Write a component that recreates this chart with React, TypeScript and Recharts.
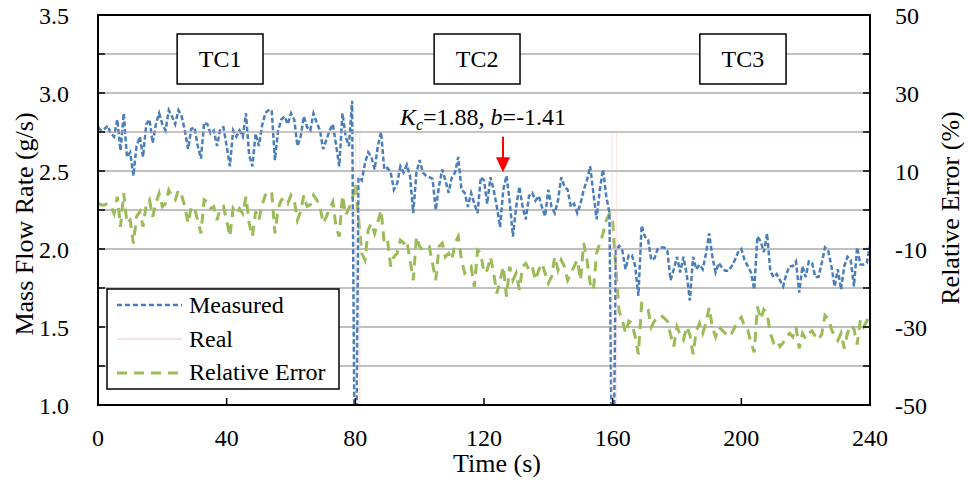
import React from "react"
import {
  LineChart,
  Line,
  XAxis,
  YAxis,
  CartesianGrid,
  ReferenceArea,
  ReferenceLine,
  ReferenceDot,
  Legend,
} from "recharts"

const FONT = "'Liberation Serif', 'Times New Roman', serif"
const BLUE = "#4A7EBB"
const GREEN = "#9BBB59"
const PINK = "#F4C4C4"

// measured mass flow rate (g/s), one sample per second, t = 0..240
const measured = [
  2.78, 2.76, 2.77, 2.79, 2.74, 2.72, 2.83, 2.63, 2.87, 2.59,
  2.62, 2.47, 2.66, 2.72, 2.59, 2.80, 2.83, 2.68, 2.80, 2.87,
  2.80, 2.76, 2.89, 2.85, 2.80, 2.89, 2.85, 2.76, 2.64, 2.77,
  2.78, 2.66, 2.58, 2.81, 2.80, 2.74, 2.76, 2.66, 2.77, 2.78,
  2.66, 2.53, 2.76, 2.72, 2.76, 2.72, 2.87, 2.60, 2.53, 2.74,
  2.66, 2.79, 2.87, 2.89, 2.89, 2.57, 2.76, 2.83, 2.85, 2.80,
  2.87, 2.83, 2.66, 2.72, 2.85, 2.78, 2.76, 2.87, 2.81, 2.76,
  2.64, 2.70, 2.76, 2.80, 2.67, 2.53, 2.87, 2.72, 2.66, 2.95,
  0, 2.46, 2.44, 2.55, 2.62, 2.59, 2.51, 2.66, 2.75, 2.51,
  2.52, 2.49, 2.38, 2.42, 2.53, 2.49, 2.54, 2.47, 2.23, 2.49,
  2.57, 2.49, 2.47, 2.46, 2.45, 2.25, 2.40, 2.51, 2.44, 2.36,
  2.46, 2.49, 2.59, 2.38, 2.36, 2.27, 2.36, 2.29, 2.23, 2.46,
  2.44, 2.29, 2.46, 2.38, 2.27, 2.14, 2.38, 2.47, 2.30, 2.08,
  2.27, 2.40, 2.27, 2.19, 2.34, 2.36, 2.31, 2.34, 2.27, 2.21,
  2.38, 2.27, 2.23, 2.31, 2.46, 2.40, 2.38, 2.27, 2.29, 2.23,
  2.29, 2.38, 2.44, 2.53, 2.36, 2.19, 2.38, 2.51, 2.34, 2.23,
  0, 2.00, 2.02, 1.99, 1.87, 1.96, 1.96, 1.89, 1.70, 2.15,
  2.08, 2.06, 1.93, 1.94, 2.00, 2.01, 2.01, 1.99, 1.80, 1.87,
  1.95, 1.85, 1.95, 1.84, 1.67, 1.95, 1.87, 1.90, 1.87, 1.97,
  2.10, 1.95, 1.85, 1.91, 1.88, 1.86, 1.86, 1.89, 1.93, 1.98,
  2.00, 1.93, 1.89, 1.85, 1.74, 2.08, 2.05, 1.98, 2.10, 1.86,
  1.82, 1.84, 1.80, 1.76, 1.84, 1.89, 1.89, 1.92, 1.72, 1.89,
  1.82, 1.92, 1.91, 1.82, 1.82, 1.91, 2.01, 1.99, 1.89, 1.76,
  1.87, 1.74, 1.89, 1.95, 1.93, 1.76, 2.01, 1.90, 1.90, 1.91,
  2.02,
]

// relative error (%), same time base
const relError = [
  1.7, 1.3, 1.3, 1.7, 0.9, -0.9, 3.4, -4.3, 4.3, -3.4,
  -2.6, -8.6, -1.7, -0.4, -4.3, 1.3, 2.6, -1.7, 1.7, 4.3,
  0.9, 1.7, 5.1, 3.4, 2.6, 5.1, 3.8, 0.9, -3.4, 0.9,
  0.4, -2.6, -6.0, 2.6, 2.1, 0.4, 0.9, -2.6, 0.4, 0.9,
  -2.6, -6.8, 0.4, -0.9, 0.4, -0.9, 3.4, -3.4, -6.8, -0.4,
  -2.6, 1.3, 3.8, 4.7, 4.7, -6.0, 0.4, 2.6, 3.0, 1.7,
  3.8, 2.6, -2.6, -0.4, 3.8, 0.9, 1.3, 3.8, 2.6, 0.9,
  -3.4, -1.7, 0.4, 2.1, -4.3, -6.8, 3.8, -1.3, 0.4, 2.6,
  6.8, -2.0, -11.1, -12.8, -5.1, -3.4, -6.0, -3.0, 0.0, -8.5,
  -7.7, -14.5, -12.0, -11.1, -7.7, -8.5, -7.7, -12.8, -18.0, -6.8,
  -9.4, -10.3, -9.8, -9.4, -13.7, -18.0, -9.4, -8.5, -12.0, -11.1,
  -12.8, -8.5, -6.8, -12.8, -16.2, -15.4, -14.5, -19.7, -10.3, -11.1,
  -16.2, -15.4, -12.0, -16.2, -21.4, -18.0, -14.5, -22.2, -14.5, -18.0,
  -16.2, -20.5, -14.5, -13.7, -15.4, -14.5, -18.0, -15.4, -13.7, -16.2,
  -18.8, -17.1, -12.0, -15.4, -12.8, -14.5, -18.0, -16.2, -14.5, -12.8,
  -18.0, -8.5, -12.8, -18.8, -20.5, -11.1, -8.5, -6.0, -2.6, -0.9,
  -3.0, -15.0, -26.0, -28.2, -31.6, -28.5, -29.0, -32.5, -37.0, -24.0,
  -24.5, -25.5, -30.0, -28.5, -27.5, -27.0, -27.7, -28.5, -32.0, -35.0,
  -30.0, -32.0, -33.3, -29.9, -32.0, -37.0, -31.0, -29.0, -31.6, -29.0,
  -25.0, -30.0, -32.5, -30.0, -30.8, -31.6, -32.5, -31.6, -30.0, -28.5,
  -27.5, -29.9, -30.8, -34.0, -36.5, -24.8, -28.0, -25.5, -26.5, -31.6,
  -34.0, -33.3, -35.0, -34.0, -32.5, -31.6, -32.5, -30.0, -35.5, -31.6,
  -33.0, -31.6, -31.0, -32.5, -33.3, -31.8, -27.0, -27.8, -30.5, -32.5,
  -33.5, -31.6, -35.5, -31.6, -29.5, -30.5, -34.5, -28.2, -30.0, -28.5,
  -26.5,
]

// real flow rate: breakpoints of the step line
const realTime = [0, 80.1, 80.1, 81.4, 81.4, 159.8, 159.8, 161.3, 161.3, 240]
const realValue = [2.75, 2.75, 0, 0, 2.75, 2.75, 0, 0, 2.75, 2.75]

const xTicks = [0, 40, 80, 120, 160, 200, 240]
const flowTicks = [1, 1.25, 1.5, 1.75, 2, 2.25, 2.5, 2.75, 3, 3.25, 3.5]
const errorTicks = [-50, -40, -30, -20, -10, 0, 10, 20, 30, 40, 50]

const data = measured.map((m, i) => ({ t: i, measured: m, error: relError[i] }))
const realData = realTime.map((t, i) => ({ t, real: realValue[i] }))

const tickStyle = { fontSize: 24, fill: "#000", fontFamily: FONT }

function LegendBox() {
  return (
    <svg width={236} height={104} style={{ display: "block" }}>
      <rect x={1} y={1} width={232} height={100} fill="#fff" stroke="#000" strokeWidth={1.5} />
      <line x1={11} x2={76} y1={17} y2={17} stroke={BLUE} strokeWidth={2.5} strokeDasharray="5 3" />
      <line x1={11} x2={76} y1={51} y2={51} stroke={PINK} strokeWidth={1} />
      <line x1={11} x2={76} y1={85} y2={85} stroke={GREEN} strokeWidth={3} strokeDasharray="10 7" />
      <g fontFamily={FONT} fontSize={24} fill="#000">
        <text x={83} y={25}>Measured</text>
        <text x={83} y={59}>Real</text>
        <text x={83} y={92}>Relative Error</text>
      </g>
    </svg>
  )
}

function PhaseLabel({ viewBox, value }: any) {
  const { x, y, width, height } = viewBox
  return (
    <text x={x + width / 2} y={y + height / 2} textAnchor="middle" dominantBaseline="central"
      fontFamily={FONT} fontSize={24} fill="#000">
      {value}
    </text>
  )
}

export default function App() {
  return (
    <div style={{ position: "absolute", left: 0, top: 0, background: "#fff" }}>
      <LineChart width={968} height={480} margin={{ top: 15, right: 0, bottom: 0, left: 0 }}>
        <CartesianGrid yAxisId="left" vertical={false} stroke="#ABABAB" strokeWidth={1.5} />
        <XAxis
          dataKey="t"
          type="number"
          domain={[0, 240]}
          ticks={xTicks}
          allowDataOverflow
          height={75}
          axisLine={{ stroke: "#000", strokeWidth: 2 }}
          tickLine={{ stroke: "#000", strokeWidth: 1.5 }}
          tickSize={-7}
          tickMargin={31}
          tick={tickStyle}
          label={{
            content: () => (
              <text x={497} y={472} textAnchor="middle" fontFamily={FONT} fontSize={26} fill="#000">
                Time (s)
              </text>
            ),
          }}
        />
        <YAxis
          yAxisId="left"
          domain={[1, 3.5]}
          ticks={flowTicks}
          allowDataOverflow
          width={98}
          axisLine={{ stroke: "#000", strokeWidth: 2 }}
          tickLine={{ stroke: "#000", strokeWidth: 1.5 }}
          tickSize={-7}
          tickMargin={36}
          tick={tickStyle}
          tickFormatter={(v: number) => (Math.round(v * 4) % 2 === 0 ? v.toFixed(1) : "")}
          label={{
            content: () => (
              <text transform="translate(24,224) rotate(-90)" textAnchor="middle" dominantBaseline="central"
                fontFamily={FONT} fontSize={26} fill="#000">
                Mass Flow Rate (g/s)
              </text>
            ),
          }}
        />
        <YAxis
          yAxisId="right"
          orientation="right"
          domain={[-50, 50]}
          ticks={errorTicks}
          allowDataOverflow
          width={98}
          axisLine={{ stroke: "#000", strokeWidth: 2 }}
          tickLine={{ stroke: "#000", strokeWidth: 1.5 }}
          tickSize={-7}
          tickMargin={32}
          tick={tickStyle}
          tickFormatter={(v: number) => (Math.round((v + 50) / 10) % 2 === 0 ? String(v) : "")}
          label={{
            content: () => (
              <text transform="translate(950,208) rotate(-90)" textAnchor="middle" dominantBaseline="central"
                fontFamily={FONT} fontSize={26} fill="#000">
                Relative Error (%)
              </text>
            ),
          }}
        />

        <ReferenceArea yAxisId="left" x1={0} x2={240} y1={1} y2={3.5} fill="none" stroke="#000" strokeWidth={2} />
        <ReferenceArea yAxisId="left" x1={24.6} x2={51.3} y1={3.058} y2={3.378} fill="#fff" fillOpacity={1}
          stroke="#000" strokeWidth={1.5} label={<PhaseLabel value="TC1" />} />
        <ReferenceArea yAxisId="left" x1={104.5} x2={131.2} y1={3.058} y2={3.378} fill="#fff" fillOpacity={1}
          stroke="#000" strokeWidth={1.5} label={<PhaseLabel value="TC2" />} />
        <ReferenceArea yAxisId="left" x1={187.1} x2={213.9} y1={3.058} y2={3.378} fill="#fff" fillOpacity={1}
          stroke="#000" strokeWidth={1.5} label={<PhaseLabel value="TC3" />} />

        <Line
          yAxisId="right"
          dataKey="error"
          data={data}
          stroke={GREEN}
          strokeWidth={3}
          strokeDasharray="10 7"
          dot={false}
          isAnimationActive={false}
        />
        <Line
          yAxisId="left"
          dataKey="measured"
          data={data}
          stroke={BLUE}
          strokeWidth={2.5}
          strokeDasharray="5 2.5"
          dot={false}
          isAnimationActive={false}
        />
        <Line
          yAxisId="left"
          dataKey="real"
          data={realData}
          stroke={PINK}
          strokeOpacity={0.55}
          strokeWidth={1}
          dot={false}
          isAnimationActive={false}
        />

        <ReferenceLine yAxisId="left" segment={[{ x: 125.9, y: 2.72 }, { x: 125.9, y: 2.58 }]}
          stroke="#FF0000" strokeWidth={2} />
        <ReferenceDot yAxisId="left" x={125.9} y={2.492} r={1}
          shape={(p: any) => (
            <polygon points={`${p.cx - 7},${p.cy - 15} ${p.cx + 7},${p.cy - 15} ${p.cx},${p.cy}`} fill="#FF0000" />
          )} />
        <ReferenceDot yAxisId="left" x={119.7} y={2.795} r={1}
          shape={(p: any) => (
            <text x={p.cx} y={p.cy} textAnchor="middle" fontFamily={FONT} fontSize={24} fill="#000">
              <tspan fontStyle="italic">K</tspan>
              <tspan fontStyle="italic" fontSize={16} dy={5}>c</tspan>
              <tspan dy={-5}>=1.88, </tspan>
              <tspan fontStyle="italic">b</tspan>
              <tspan>=-1.41</tspan>
            </text>
          )} />

        <Legend
          layout="vertical"
          align="center"
          verticalAlign="middle"
          content={() => <LegendBox />}
          wrapperStyle={{ left: 106, top: 288, width: 236, height: 104 }}
        />
      </LineChart>
    </div>
  )
}
